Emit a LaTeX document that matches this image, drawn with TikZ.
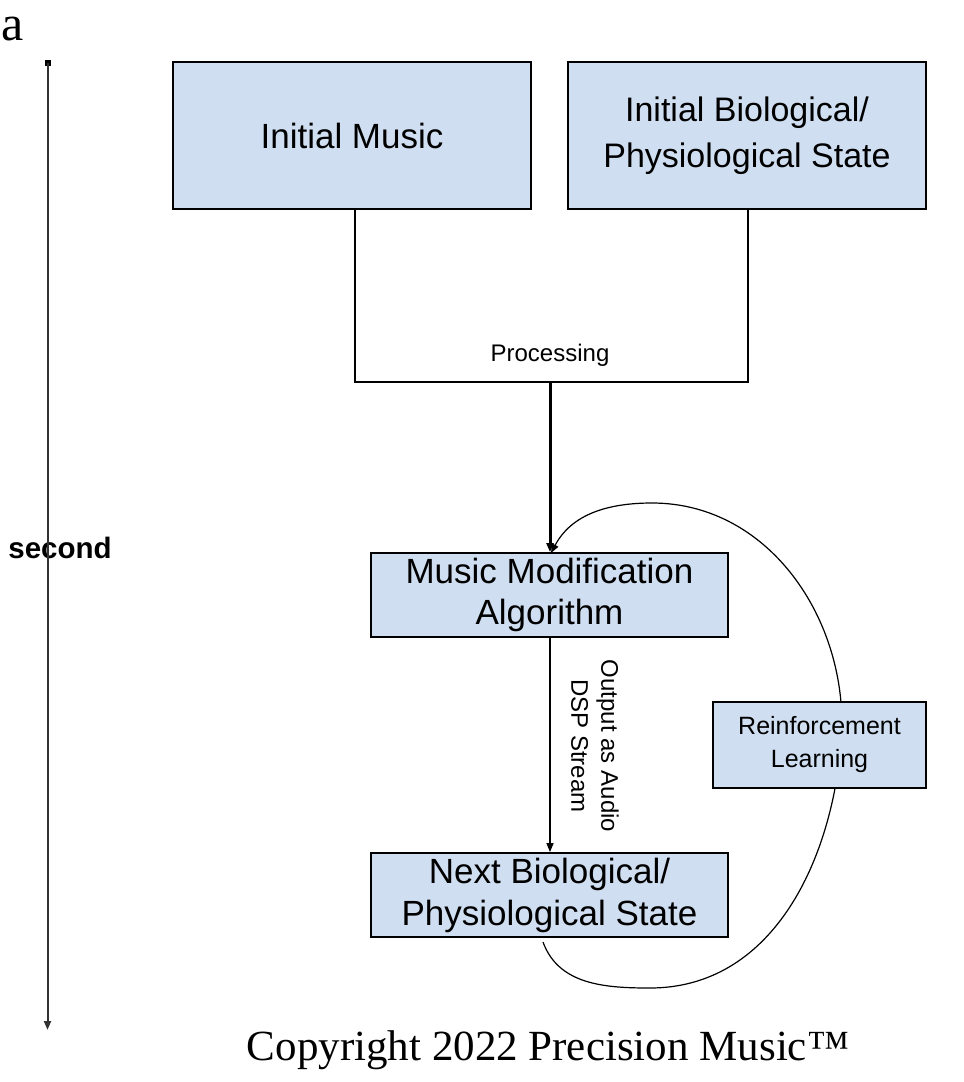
\documentclass[tikz,border=0pt]{standalone}
\usepackage{fontspec}
\setmainfont{Liberation Sans}
\newfontfamily\serifc{Liberation Serif}
\usetikzlibrary{arrows.meta}
\definecolor{boxblue}{RGB}{207,222,240}
\tikzset{
  blk/.style={draw=black, line width=1.8pt, fill=boxblue, inner sep=0pt, align=center, anchor=center},
  conn/.style={draw=black, line width=1.4pt},
  tip/.style={-{Triangle[length=9pt,width=7pt]}},
  lbl/.style={inner sep=0pt, align=center, anchor=center}
}
\begin{document}
\begin{tikzpicture}[x=1pt,y=-1pt]
\useasboundingbox (0,0) rectangle (964,1082);
% boxes
\node[blk, minimum width=358pt, minimum height=147pt, font=\fontsize{35}{45}\selectfont] (m1) at (352,135.5) {Initial Music};
\node[blk, minimum width=358pt, minimum height=147pt, font=\fontsize{34}{46}\selectfont] (m2) at (747,135.5) {Initial Biological/\\Physiological State};
% processing connectors
\coordinate (j1) at (355,382);
\coordinate (j2) at (748,382);
\coordinate (jm) at (550,382);
\draw[conn] (m1.south -| j1) -- (j1) -- (j2) -- (m2.south -| j2);
\node[lbl, font=\fontsize{24}{28}\selectfont] (proc) at (550,355) {Processing};
% feedback curve (behind boxes)
\coordinate (cs) at (543,942);
\coordinate (ce) at (551,553);
\draw[conn, line width=1.2pt, tip] (cs) to[out=-70,in=180] (650,988) to[out=0,in=-95] (841,745) to[out=85,in=0] (652,503) to[out=180,in=62] (ce);
% middle boxes
\node[blk, minimum width=357pt, minimum height=84pt, font=\fontsize{35}{41}\selectfont] (mma) at (549.5,595) {Music Modification\\Algorithm};
\node[blk, minimum width=357pt, minimum height=84pt, font=\fontsize{35}{42}\selectfont] (nbs) at (549.5,895) {Next Biological/\\Physiological State};
\node[blk, minimum width=213pt, minimum height=86pt, font=\fontsize{25}{33}\selectfont] (rl) at (819.5,745) {Reinforcement\\Learning};
% arrows
\draw[conn, line width=3pt, tip] (jm) -- (mma.north -| jm);
\draw[conn, line width=1.2pt, tip] (mma.south -| jm) -- (nbs.north -| jm);
\node[lbl, rotate=-90, font=\fontsize{24}{30}\selectfont] (out) at (595,746) {Output as Audio\\DSP Stream};
% time axis
\node[lbl, anchor=base west, font=\serifc\fontsize{50}{52}\selectfont] (a) at (1,40) {a};
\node[lbl, font=\bfseries\fontsize{29.5}{32}\selectfont] (sec) at (60,548) {second};
\node[fill=black, minimum size=6pt, inner sep=0pt] (tA) at (47.5,63) {};
\coordinate (tB) at (47.5,1030);
\draw[draw=black!80, line width=2pt, tip] (tA.center) -- (tB);
% copyright
\node[lbl, font=\serifc\fontsize{43}{46}\selectfont] (copy) at (548,1050) {Copyright 2022 Precision Music™};
\end{tikzpicture}
\end{document}
